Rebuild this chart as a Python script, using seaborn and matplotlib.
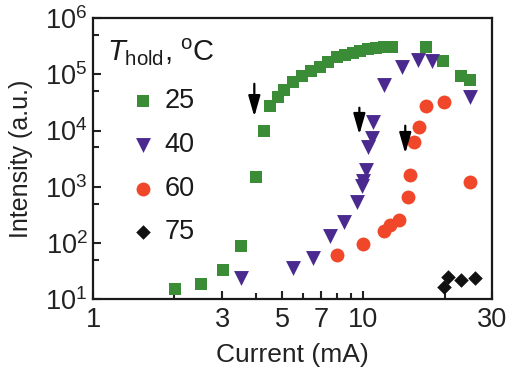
import numpy as np
import pandas as pd
import seaborn as sns
import matplotlib
matplotlib.use("Agg")
import matplotlib.pyplot as plt
from matplotlib.ticker import FixedLocator, FixedFormatter, LogLocator, NullFormatter

# --- data ----------------------------------------------------------------
t25_x = [2.01, 2.51, 3.03, 3.53, 4.01, 4.30, 4.52, 4.84, 5.10, 5.51, 5.94, 6.42,
         6.93, 7.42, 8.01, 8.58, 9.18, 9.75, 10.4, 11.1, 11.9, 12.8, 17.0, 19.8,
         22.9, 24.9]
t25_y = [15.3, 18.8, 33, 88, 1470, 10000, 27700, 40000, 53000, 73600, 94000,
         115000, 136000, 166000, 204000, 221000, 240000, 261000, 283000, 294000,
         307000, 307000, 307000, 173000, 94000, 80000]

t40_x = [3.53, 5.51, 6.53, 7.55, 8.51, 9.50, 9.92, 10.0, 10.2, 10.4, 10.8, 10.9,
         11.9, 13.9, 16.0, 17.9, 24.9]
t40_y = [24, 36, 54, 133, 235, 532, 1020, 1250, 1960, 5200, 7500, 14400,
         65000, 136000, 181000, 173000, 40000]

t60_x = [8.01, 10.0, 11.9, 12.6, 13.5, 14.6, 14.9, 15.4, 16.1, 17.1, 19.9, 24.9]
t60_y = [61, 96, 163, 208, 255, 652, 1600, 6140, 11800, 27700, 32600, 1200]

t75_x = [19.9, 20.6, 22.9, 26.0]
t75_y = [16.6, 25, 22, 24]

labels = ["25", "40", "60", "75"]
colors = ["#3b8c37", "#4a2a8e", "#f0472a", "#111111"]
markers = ["s", "v", "o", "D"]
sizes = [85, 115, 100, 55]

# arrows: (x, tail y, tip y)
arrow_x = [3.95, 9.67, 14.3]
arrow_tail = [68000, 25500, 12200]
arrow_tip = [17700, 8500, 3900]

xticks = [1, 3, 5, 7, 10, 30]
xminor = [2, 4, 6, 8, 9, 20]

# --- plotting ------------------------------------------------------------
sns.set_style("ticks")
plt.rcParams["font.family"] = ["Liberation Sans", "DejaVu Sans"]
plt.rcParams["mathtext.fontset"] = "custom"
plt.rcParams["mathtext.rm"] = "Liberation Sans"
plt.rcParams["mathtext.it"] = "Liberation Sans:italic"

df = pd.concat([
    pd.DataFrame({"current": x, "intensity": y, "T": lab})
    for x, y, lab in zip([t25_x, t40_x, t60_x, t75_x],
                         [t25_y, t40_y, t60_y, t75_y], labels)
])

fig = plt.figure(figsize=(5.09, 3.87), dpi=100)
ax = fig.add_axes([0.183, 0.227, 0.784, 0.726])

for lab, c, m, s in zip(labels, colors, markers, sizes):
    sub = df[df["T"] == lab]
    sns.scatterplot(data=sub, x="current", y="intensity", color=c, marker=m,
                    s=s, linewidth=0, ax=ax, label=lab, zorder=3)

for x, y0, y1 in zip(arrow_x, arrow_tail, arrow_tip):
    ax.annotate("", xy=(x, y1), xytext=(x, y0),
                arrowprops=dict(arrowstyle="-|>,head_length=0.7,head_width=0.2",
                                color="black", lw=1.6, mutation_scale=18,
                                shrinkA=0, shrinkB=0), zorder=4)

ax.set_xscale("log")
ax.set_yscale("log")
ax.set_xlim(1, 30)
ax.set_ylim(10, 1e6)

ax.xaxis.set_major_locator(FixedLocator(xticks))
ax.xaxis.set_major_formatter(FixedFormatter([str(t) for t in xticks]))
ax.xaxis.set_minor_locator(FixedLocator(xminor))
ax.xaxis.set_minor_formatter(NullFormatter())
ax.yaxis.set_major_locator(LogLocator(base=10, numticks=10))
ax.yaxis.set_minor_locator(LogLocator(base=10, subs=[5], numticks=10))
ax.yaxis.set_minor_formatter(NullFormatter())

ax.tick_params(which="both", direction="in", width=1.5, labelsize=19.5,
               colors="#222222")
ax.tick_params(axis="x", pad=6)
ax.tick_params(axis="y", pad=4)
ax.tick_params(which="major", length=6)
ax.tick_params(which="minor", length=4)
for sp in ax.spines.values():
    sp.set_linewidth(1.6)
    sp.set_color("#1a1a1a")

ax.set_xlabel("Current (mA)", fontsize=19, labelpad=7, color="#222222")
ax.set_ylabel("Intensity (a.u.)", fontsize=18, labelpad=9, color="#222222")

ax.text(0.035, 0.935, r"$T_{\rm hold}$, $^{\rm o}$C", transform=ax.transAxes,
        fontsize=21, va="top", ha="left", color="#1a1a1a")
leg = ax.legend(loc="upper left", bbox_to_anchor=(0.09, 0.75), frameon=False,
                fontsize=19.5, handlelength=1.0, handletextpad=0.3,
                labelspacing=0.65, borderaxespad=0, borderpad=0,
                markerscale=1.0)
for t in leg.get_texts():
    t.set_color("#1a1a1a")

fig.savefig("out.png", dpi=100)
